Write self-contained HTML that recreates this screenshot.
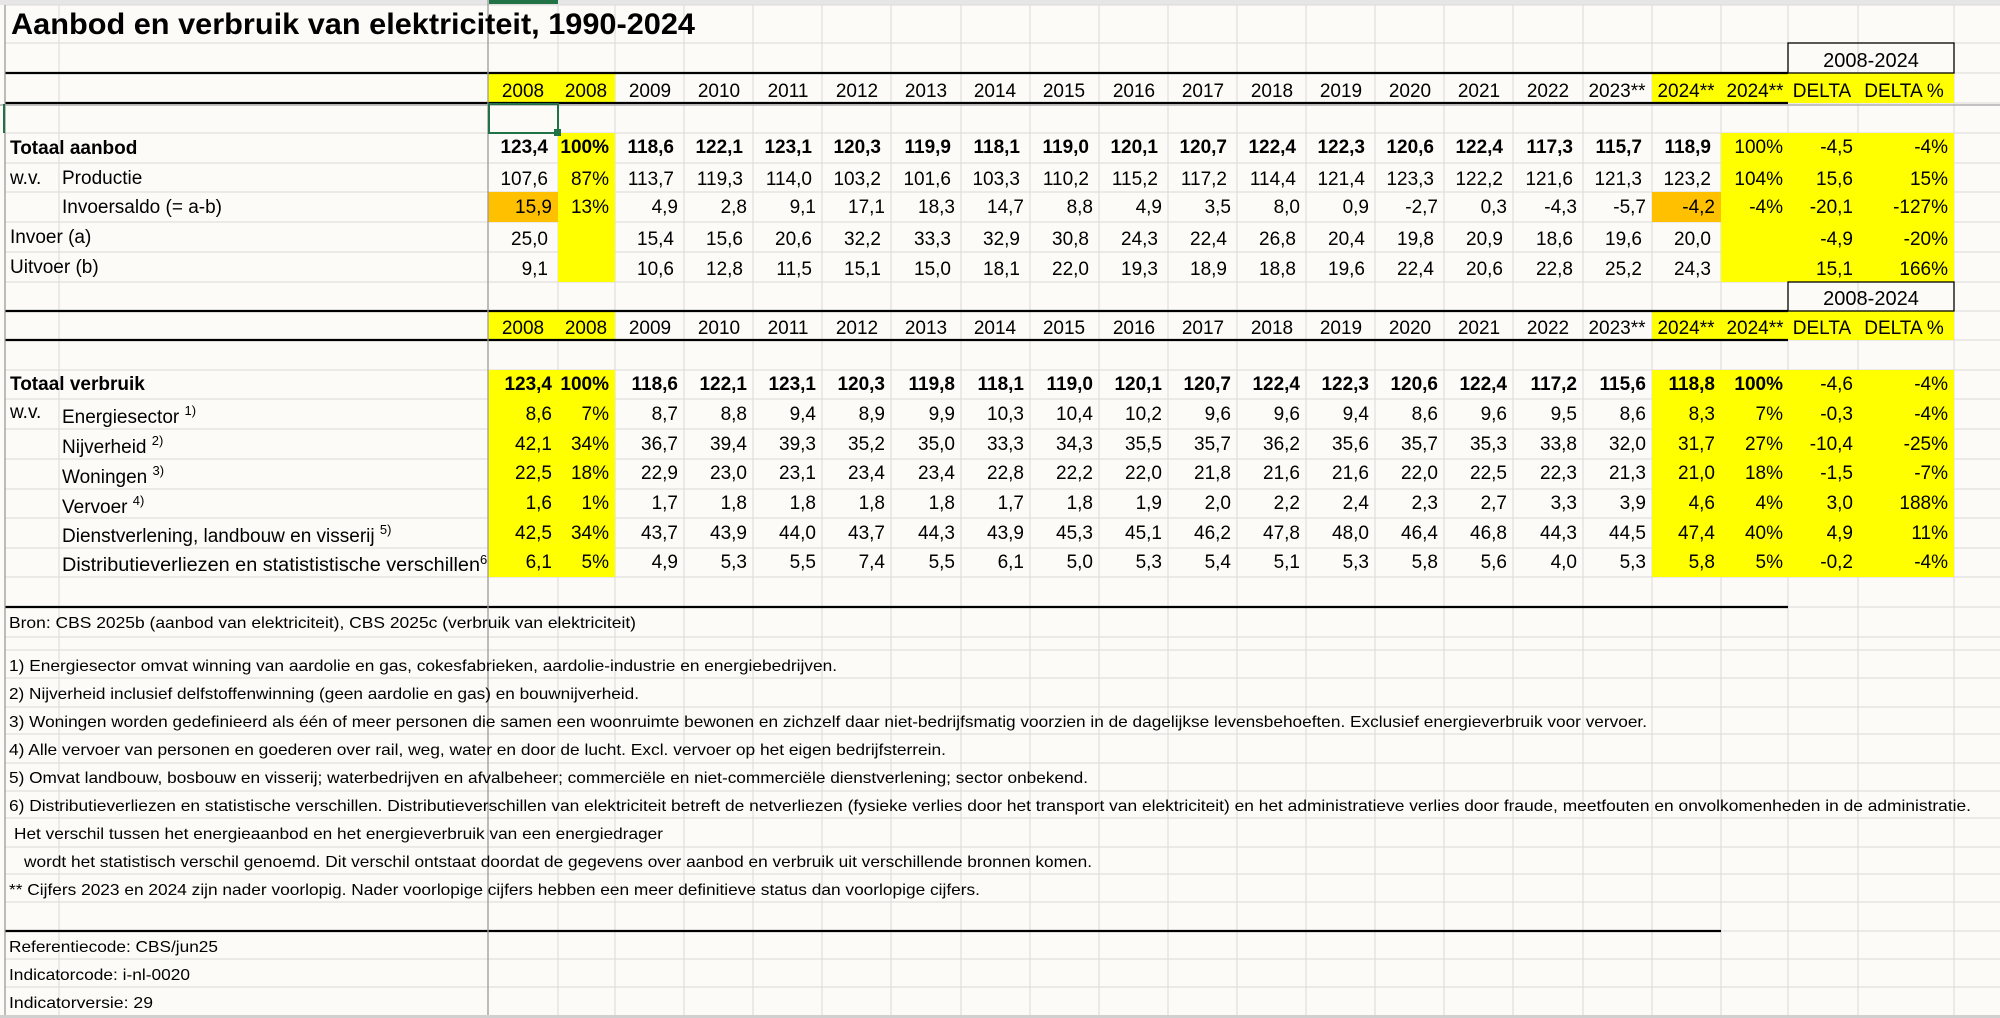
<!DOCTYPE html>
<html><head><meta charset="utf-8"><style>
html,body{margin:0;padding:0;background:#fcfbf8;}
svg{display:block;font-family:"Liberation Sans",Arial,sans-serif;}
.n{font-size:19px;fill:#000;}
.b{font-weight:bold;}
.f{font-size:16px;fill:#000;}
</style></head><body>
<svg width="2000" height="1018" viewBox="0 0 2000 1018" xmlns="http://www.w3.org/2000/svg">
<rect width="2000" height="1018" fill="#fcfbf8"/>
<rect x="0" y="0" width="2000" height="5" fill="#e6e6e6"/>
<rect x="489" y="0" width="69" height="4" fill="#217346"/>
<!-- gridlines -->
<g stroke="#dadada" stroke-width="1">
<path d="M59 5V1015M558 5V1015M615 5V1015M684 5V1015M753 5V1015M822 5V1015M891 5V1015M961 5V1015M1030 5V1015M1099 5V1015M1168 5V1015M1237 5V1015M1306 5V1015M1375 5V1015M1444 5V1015M1513 5V1015M1583 5V1015M1652 5V1015M1721 5V1015M1788 5V1015M1858 5V1015M1954 5V1015"/>
<path d="M5 5H2000M5 43H2000M5 133H2000M5 163H2000M5 192H2000M5 222H2000M5 252H2000M5 282H2000M5 370H2000M5 399H2000M5 429H2000M5 459H2000M5 489H2000M5 518H2000M5 548H2000M5 577H2000M5 637H2000M5 650H2000M5 678H2000M5 707H2000M5 734H2000M5 763H2000M5 791H2000M5 818H2000M5 847H2000M5 874H2000M5 902H2000M5 959H2000M5 987H2000"/>
<path d="M1788 73H2000M1788 103H2000M1788 311H2000M1788 340H2000M1788 607H2000M1721 931H2000"/>
</g>
<!-- fills -->
<g fill="#ffff00">
<rect x="488" y="73" width="127" height="30"/>
<rect x="1652" y="73" width="302" height="30"/>
<rect x="558" y="133" width="57" height="149"/>
<rect x="1721" y="133" width="233" height="149"/>
<rect x="488" y="311" width="127" height="29"/>
<rect x="1652" y="311" width="302" height="29"/>
<rect x="488" y="370" width="127" height="207"/>
<rect x="1652" y="370" width="302" height="207"/>
</g>
<g fill="#ffc000">
<rect x="488" y="192" width="70" height="30"/>
<rect x="1652" y="192" width="69" height="30"/>
</g>
<!-- heavy lines -->
<g stroke="#000" stroke-width="2.2">
<path d="M5 73H1788M5 103H1788M5 311H1788M5 340H1788M5 607H1788M5 931H1721"/>
</g>
<g stroke="#000" stroke-width="1.3" fill="none">
<rect x="1788" y="43" width="166" height="30"/>
<rect x="1788" y="282" width="166" height="29"/>
</g>
<path d="M0 105H2000" stroke="#b0b0b0" stroke-width="1.5"/>
<path d="M488 0V1015M5 5V1015" stroke="#9a9a9a" stroke-width="1.3"/>
<rect x="0" y="1015" width="2000" height="3" fill="#d0d0d0"/>
<!-- selection -->
<rect x="489" y="104" width="69" height="29" fill="none" stroke="#217346" stroke-width="2"/>
<rect x="554" y="129" width="7" height="7" fill="#217346"/>
<rect x="3" y="104" width="2" height="29" fill="#217346"/>

<!-- title -->
<text x="11" y="34" font-size="30" font-weight="bold" textLength="684" lengthAdjust="spacingAndGlyphs">Aanbod en verbruik van elektriciteit, 1990-2024</text>
<text x="1871" y="67" font-size="20" text-anchor="middle">2008-2024</text>
<text x="1871" y="305" font-size="20" text-anchor="middle">2008-2024</text>

<!-- headers -->
<g class="n" text-anchor="middle">
<text y="97"><tspan x="523">2008</tspan><tspan x="586">2008</tspan><tspan x="650">2009</tspan><tspan x="719">2010</tspan><tspan x="788">2011</tspan><tspan x="857">2012</tspan><tspan x="926">2013</tspan><tspan x="995">2014</tspan><tspan x="1064">2015</tspan><tspan x="1134">2016</tspan><tspan x="1203">2017</tspan><tspan x="1272">2018</tspan><tspan x="1341">2019</tspan><tspan x="1410">2020</tspan><tspan x="1479">2021</tspan><tspan x="1548">2022</tspan><tspan x="1617">2023**</tspan><tspan x="1686">2024**</tspan><tspan x="1755">2024**</tspan><tspan x="1822">DELTA</tspan><tspan x="1904">DELTA %</tspan></text>
<text y="334"><tspan x="523">2008</tspan><tspan x="586">2008</tspan><tspan x="650">2009</tspan><tspan x="719">2010</tspan><tspan x="788">2011</tspan><tspan x="857">2012</tspan><tspan x="926">2013</tspan><tspan x="995">2014</tspan><tspan x="1064">2015</tspan><tspan x="1134">2016</tspan><tspan x="1203">2017</tspan><tspan x="1272">2018</tspan><tspan x="1341">2019</tspan><tspan x="1410">2020</tspan><tspan x="1479">2021</tspan><tspan x="1548">2022</tspan><tspan x="1617">2023**</tspan><tspan x="1686">2024**</tspan><tspan x="1755">2024**</tspan><tspan x="1822">DELTA</tspan><tspan x="1904">DELTA %</tspan></text>
</g>

<!-- labels -->
<g class="n">
<text x="10" y="154" class="b">Totaal aanbod</text>
<text x="10" y="184">w.v.</text><text x="62" y="184">Productie</text>
<text x="62" y="213">Invoersaldo (= a-b)</text>
<text x="10" y="243">Invoer (a)</text>
<text x="10" y="273">Uitvoer (b)</text>
<text x="10" y="390" class="b">Totaal verbruik</text>
<text x="10" y="418">w.v.</text>
<text x="62" y="423">Energiesector <tspan font-size="13" dy="-8">1)</tspan></text>
<text x="62" y="453">Nijverheid <tspan font-size="13" dy="-8">2)</tspan></text>
<text x="62" y="483">Woningen <tspan font-size="13" dy="-8">3)</tspan></text>
<text x="62" y="513">Vervoer <tspan font-size="13" dy="-8">4)</tspan></text>
<text x="62" y="542">Dienstverlening, landbouw en visserij <tspan font-size="13" dy="-8">5)</tspan></text>
<text x="62" y="571" textLength="418" lengthAdjust="spacingAndGlyphs">Distributieverliezen en statististische verschillen</text><text x="480" y="564" font-size="13">6</text>
</g>

<!-- data -->
<g class="n" text-anchor="end">
<text y="153" class="b"><tspan x="548">123,4</tspan><tspan x="609">100%</tspan><tspan x="674">118,6</tspan><tspan x="743">122,1</tspan><tspan x="812">123,1</tspan><tspan x="881">120,3</tspan><tspan x="951">119,9</tspan><tspan x="1020">118,1</tspan><tspan x="1089">119,0</tspan><tspan x="1158">120,1</tspan><tspan x="1227">120,7</tspan><tspan x="1296">122,4</tspan><tspan x="1365">122,3</tspan><tspan x="1434">120,6</tspan><tspan x="1503">122,4</tspan><tspan x="1573">117,3</tspan><tspan x="1642">115,7</tspan><tspan x="1711">118,9</tspan></text>
<text y="153"><tspan x="1783">100%</tspan><tspan x="1853">-4,5</tspan><tspan x="1948">-4%</tspan></text>
<text y="185"><tspan x="548">107,6</tspan><tspan x="609">87%</tspan><tspan x="674">113,7</tspan><tspan x="743">119,3</tspan><tspan x="812">114,0</tspan><tspan x="881">103,2</tspan><tspan x="951">101,6</tspan><tspan x="1020">103,3</tspan><tspan x="1089">110,2</tspan><tspan x="1158">115,2</tspan><tspan x="1227">117,2</tspan><tspan x="1296">114,4</tspan><tspan x="1365">121,4</tspan><tspan x="1434">123,3</tspan><tspan x="1503">122,2</tspan><tspan x="1573">121,6</tspan><tspan x="1642">121,3</tspan><tspan x="1711">123,2</tspan><tspan x="1783">104%</tspan><tspan x="1853">15,6</tspan><tspan x="1948">15%</tspan></text>
<text y="213"><tspan x="552">15,9</tspan><tspan x="609">13%</tspan><tspan x="678">4,9</tspan><tspan x="747">2,8</tspan><tspan x="816">9,1</tspan><tspan x="885">17,1</tspan><tspan x="955">18,3</tspan><tspan x="1024">14,7</tspan><tspan x="1093">8,8</tspan><tspan x="1162">4,9</tspan><tspan x="1231">3,5</tspan><tspan x="1300">8,0</tspan><tspan x="1369">0,9</tspan><tspan x="1438">-2,7</tspan><tspan x="1507">0,3</tspan><tspan x="1577">-4,3</tspan><tspan x="1646">-5,7</tspan><tspan x="1715">-4,2</tspan><tspan x="1783">-4%</tspan><tspan x="1853">-20,1</tspan><tspan x="1948">-127%</tspan></text>
<text y="245"><tspan x="548">25,0</tspan><tspan x="674">15,4</tspan><tspan x="743">15,6</tspan><tspan x="812">20,6</tspan><tspan x="881">32,2</tspan><tspan x="951">33,3</tspan><tspan x="1020">32,9</tspan><tspan x="1089">30,8</tspan><tspan x="1158">24,3</tspan><tspan x="1227">22,4</tspan><tspan x="1296">26,8</tspan><tspan x="1365">20,4</tspan><tspan x="1434">19,8</tspan><tspan x="1503">20,9</tspan><tspan x="1573">18,6</tspan><tspan x="1642">19,6</tspan><tspan x="1711">20,0</tspan><tspan x="1853">-4,9</tspan><tspan x="1948">-20%</tspan></text>
<text y="275"><tspan x="548">9,1</tspan><tspan x="674">10,6</tspan><tspan x="743">12,8</tspan><tspan x="812">11,5</tspan><tspan x="881">15,1</tspan><tspan x="951">15,0</tspan><tspan x="1020">18,1</tspan><tspan x="1089">22,0</tspan><tspan x="1158">19,3</tspan><tspan x="1227">18,9</tspan><tspan x="1296">18,8</tspan><tspan x="1365">19,6</tspan><tspan x="1434">22,4</tspan><tspan x="1503">20,6</tspan><tspan x="1573">22,8</tspan><tspan x="1642">25,2</tspan><tspan x="1711">24,3</tspan><tspan x="1853">15,1</tspan><tspan x="1948">166%</tspan></text>

<text y="390" class="b"><tspan x="552">123,4</tspan><tspan x="609">100%</tspan><tspan x="678">118,6</tspan><tspan x="747">122,1</tspan><tspan x="816">123,1</tspan><tspan x="885">120,3</tspan><tspan x="955">119,8</tspan><tspan x="1024">118,1</tspan><tspan x="1093">119,0</tspan><tspan x="1162">120,1</tspan><tspan x="1231">120,7</tspan><tspan x="1300">122,4</tspan><tspan x="1369">122,3</tspan><tspan x="1438">120,6</tspan><tspan x="1507">122,4</tspan><tspan x="1577">117,2</tspan><tspan x="1646">115,6</tspan><tspan x="1715">118,8</tspan><tspan x="1783">100%</tspan></text>
<text y="390"><tspan x="1853">-4,6</tspan><tspan x="1948">-4%</tspan></text>
<text y="420"><tspan x="552">8,6</tspan><tspan x="609">7%</tspan><tspan x="678">8,7</tspan><tspan x="747">8,8</tspan><tspan x="816">9,4</tspan><tspan x="885">8,9</tspan><tspan x="955">9,9</tspan><tspan x="1024">10,3</tspan><tspan x="1093">10,4</tspan><tspan x="1162">10,2</tspan><tspan x="1231">9,6</tspan><tspan x="1300">9,6</tspan><tspan x="1369">9,4</tspan><tspan x="1438">8,6</tspan><tspan x="1507">9,6</tspan><tspan x="1577">9,5</tspan><tspan x="1646">8,6</tspan><tspan x="1715">8,3</tspan><tspan x="1783">7%</tspan><tspan x="1853">-0,3</tspan><tspan x="1948">-4%</tspan></text>
<text y="450"><tspan x="552">42,1</tspan><tspan x="609">34%</tspan><tspan x="678">36,7</tspan><tspan x="747">39,4</tspan><tspan x="816">39,3</tspan><tspan x="885">35,2</tspan><tspan x="955">35,0</tspan><tspan x="1024">33,3</tspan><tspan x="1093">34,3</tspan><tspan x="1162">35,5</tspan><tspan x="1231">35,7</tspan><tspan x="1300">36,2</tspan><tspan x="1369">35,6</tspan><tspan x="1438">35,7</tspan><tspan x="1507">35,3</tspan><tspan x="1577">33,8</tspan><tspan x="1646">32,0</tspan><tspan x="1715">31,7</tspan><tspan x="1783">27%</tspan><tspan x="1853">-10,4</tspan><tspan x="1948">-25%</tspan></text>
<text y="479"><tspan x="552">22,5</tspan><tspan x="609">18%</tspan><tspan x="678">22,9</tspan><tspan x="747">23,0</tspan><tspan x="816">23,1</tspan><tspan x="885">23,4</tspan><tspan x="955">23,4</tspan><tspan x="1024">22,8</tspan><tspan x="1093">22,2</tspan><tspan x="1162">22,0</tspan><tspan x="1231">21,8</tspan><tspan x="1300">21,6</tspan><tspan x="1369">21,6</tspan><tspan x="1438">22,0</tspan><tspan x="1507">22,5</tspan><tspan x="1577">22,3</tspan><tspan x="1646">21,3</tspan><tspan x="1715">21,0</tspan><tspan x="1783">18%</tspan><tspan x="1853">-1,5</tspan><tspan x="1948">-7%</tspan></text>
<text y="509"><tspan x="552">1,6</tspan><tspan x="609">1%</tspan><tspan x="678">1,7</tspan><tspan x="747">1,8</tspan><tspan x="816">1,8</tspan><tspan x="885">1,8</tspan><tspan x="955">1,8</tspan><tspan x="1024">1,7</tspan><tspan x="1093">1,8</tspan><tspan x="1162">1,9</tspan><tspan x="1231">2,0</tspan><tspan x="1300">2,2</tspan><tspan x="1369">2,4</tspan><tspan x="1438">2,3</tspan><tspan x="1507">2,7</tspan><tspan x="1577">3,3</tspan><tspan x="1646">3,9</tspan><tspan x="1715">4,6</tspan><tspan x="1783">4%</tspan><tspan x="1853">3,0</tspan><tspan x="1948">188%</tspan></text>
<text y="539"><tspan x="552">42,5</tspan><tspan x="609">34%</tspan><tspan x="678">43,7</tspan><tspan x="747">43,9</tspan><tspan x="816">44,0</tspan><tspan x="885">43,7</tspan><tspan x="955">44,3</tspan><tspan x="1024">43,9</tspan><tspan x="1093">45,3</tspan><tspan x="1162">45,1</tspan><tspan x="1231">46,2</tspan><tspan x="1300">47,8</tspan><tspan x="1369">48,0</tspan><tspan x="1438">46,4</tspan><tspan x="1507">46,8</tspan><tspan x="1577">44,3</tspan><tspan x="1646">44,5</tspan><tspan x="1715">47,4</tspan><tspan x="1783">40%</tspan><tspan x="1853">4,9</tspan><tspan x="1948">11%</tspan></text>
<text y="568"><tspan x="552">6,1</tspan><tspan x="609">5%</tspan><tspan x="678">4,9</tspan><tspan x="747">5,3</tspan><tspan x="816">5,5</tspan><tspan x="885">7,4</tspan><tspan x="955">5,5</tspan><tspan x="1024">6,1</tspan><tspan x="1093">5,0</tspan><tspan x="1162">5,3</tspan><tspan x="1231">5,4</tspan><tspan x="1300">5,1</tspan><tspan x="1369">5,3</tspan><tspan x="1438">5,8</tspan><tspan x="1507">5,6</tspan><tspan x="1577">4,0</tspan><tspan x="1646">5,3</tspan><tspan x="1715">5,8</tspan><tspan x="1783">5%</tspan><tspan x="1853">-0,2</tspan><tspan x="1948">-4%</tspan></text>
</g>

<!-- footnotes -->
<g class="f">
<text x="9" y="628" textLength="627" lengthAdjust="spacingAndGlyphs">Bron: CBS 2025b (aanbod van elektriciteit), CBS 2025c (verbruik van elektriciteit)</text>
<text x="9" y="671" textLength="828" lengthAdjust="spacingAndGlyphs">1) Energiesector omvat winning van aardolie en gas, cokesfabrieken, aardolie-industrie en energiebedrijven.</text>
<text x="9" y="699" textLength="630" lengthAdjust="spacingAndGlyphs">2) Nijverheid inclusief delfstoffenwinning (geen aardolie en gas) en bouwnijverheid.</text>
<text x="9" y="727" textLength="1638" lengthAdjust="spacingAndGlyphs">3) Woningen worden gedefinieerd als één of meer personen die samen een woonruimte bewonen en zichzelf daar niet-bedrijfsmatig voorzien in de dagelijkse levensbehoeften. Exclusief energieverbruik voor vervoer.</text>
<text x="9" y="755" textLength="937" lengthAdjust="spacingAndGlyphs">4) Alle vervoer van personen en goederen over rail, weg, water en door de lucht. Excl. vervoer op het eigen bedrijfsterrein.</text>
<text x="9" y="783" textLength="1079" lengthAdjust="spacingAndGlyphs">5) Omvat landbouw, bosbouw en visserij; waterbedrijven en afvalbeheer; commerciële en niet-commerciële dienstverlening; sector onbekend.</text>
<text x="9" y="811" textLength="1962" lengthAdjust="spacingAndGlyphs">6) Distributieverliezen en statistische verschillen. Distributieverschillen van elektriciteit betreft de netverliezen (fysieke verlies door het transport van elektriciteit) en het administratieve verlies door fraude, meetfouten en onvolkomenheden in de administratie.</text>
<text x="14" y="839" textLength="649" lengthAdjust="spacingAndGlyphs">Het verschil tussen het energieaanbod en het energieverbruik van een energiedrager</text>
<text x="24" y="867" textLength="1068" lengthAdjust="spacingAndGlyphs">wordt het statistisch verschil genoemd. Dit verschil ontstaat doordat de gegevens over aanbod en verbruik uit verschillende bronnen komen.</text>
<text x="9" y="895" textLength="971" lengthAdjust="spacingAndGlyphs">** Cijfers 2023 en 2024 zijn nader voorlopig. Nader voorlopige cijfers hebben een meer definitieve status dan voorlopige cijfers.</text>
<text x="9" y="952" textLength="209" lengthAdjust="spacingAndGlyphs">Referentiecode: CBS/jun25</text>
<text x="9" y="980" textLength="181" lengthAdjust="spacingAndGlyphs">Indicatorcode: i-nl-0020</text>
<text x="9" y="1008" textLength="144" lengthAdjust="spacingAndGlyphs">Indicatorversie: 29</text>
</g>
</svg>
</body></html>
